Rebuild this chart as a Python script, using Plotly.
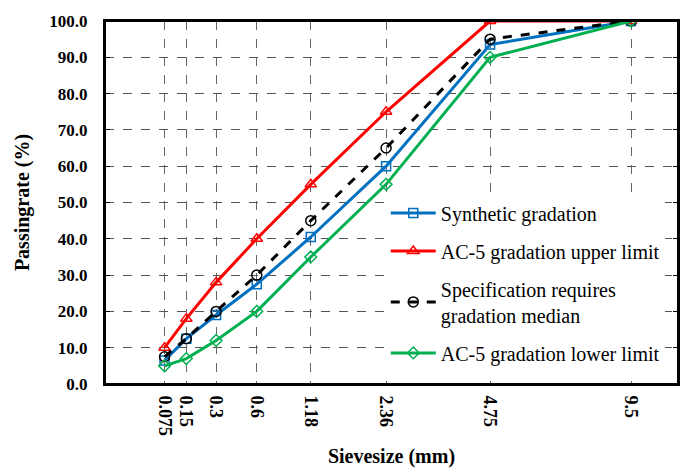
import plotly.graph_objects as go

sieve_sizes = [0.075, 0.15, 0.3, 0.6, 1.18, 2.36, 4.75, 9.5]
tick_labels = ["0.075", "0.15", "0.3", "0.6", "1.18", "2.36", "4.75", "9.5"]
synthetic = [6.5, 12.5, 19.0, 27.5, 40.5, 60.0, 93.5, 100.0]
upper_limit = [10.0, 18.0, 28.0, 40.0, 55.0, 75.0, 100.0, 100.0]
median = [7.5, 12.5, 20.0, 30.0, 45.0, 65.0, 95.0, 100.0]
lower_limit = [5.0, 7.0, 12.0, 20.0, 35.0, 55.0, 90.0, 100.0]

POW = 0.45
xs = [s ** POW for s in sieve_sizes]

fig = go.Figure()
series = [
    ("Synthetic gradation", synthetic, "#0070C0", "solid", "square-open", 9),
    ("AC-5 gradation upper limit", upper_limit, "#FF0000", "solid", "triangle-up-open", 10),
    ("Specification requires<br>gradation median", median, "#000000", "dash", "circle-open", 10),
    ("AC-5 gradation lower limit", lower_limit, "#00B050", "solid", "diamond-open", 9),
]
for i, (name, ys, color, dash, sym, sz) in enumerate(series):
    fig.add_trace(go.Scatter(
        x=xs, y=ys, name=name, mode="lines+markers",
        line=dict(color=color, width=3, dash=dash),
        marker=dict(symbol=sym, size=sz, color=color, line=dict(width=1.5, color=color)),
        legendgroup=f"g{i}",
    ))

font_family = "Liberation Serif"
fig.update_layout(
    width=686, height=474,
    margin=dict(l=105, r=8, t=21, b=90),
    plot_bgcolor="white", paper_bgcolor="white",
    font=dict(family=font_family, color="black"),
    showlegend=True,
    legend=dict(
        x=0.49, y=0.525, xanchor="left", yanchor="top",
        bgcolor="white", borderwidth=0,
        font=dict(family=font_family, size=20, color="black"),
        tracegroupgap=9, traceorder="grouped", itemwidth=45,
    ),
    xaxis=dict(
        range=[0, 3.0], tickmode="array", tickvals=xs, ticktext=tick_labels,
        tickangle=90, tickfont=dict(family=font_family, size=18, color="black", weight="bold"),
        showgrid=True, gridcolor="#666666", griddash="dash", gridwidth=1,
        showline=True, linecolor="black", linewidth=2, mirror=True,
        ticks="", zeroline=False, automargin=False, ticklabelstandoff=6,
        title=dict(text="<b>Sievesize (mm)</b>", font=dict(family=font_family, size=20, color="black"), standoff=14),
    ),
    yaxis=dict(
        range=[0, 100], tickmode="linear", tick0=0, dtick=10, tickformat=".1f",
        tickfont=dict(family=font_family, size=17, color="black", weight="bold"),
        showgrid=True, gridcolor="#555555", griddash="dash", gridwidth=1,
        showline=True, linecolor="black", linewidth=2, mirror="ticks",
        ticks="inside", ticklen=5, tickcolor="black",
        zeroline=False, automargin=False, ticklabelstandoff=12,
        title=dict(text="<b>Passingrate (%)</b>", font=dict(family=font_family, size=20, color="black"), standoff=14),
    ),
    shapes=[dict(type="rect", xref="paper", yref="paper", x0=0, x1=1, y0=0, y1=1,
                 line=dict(color="black", width=2), fillcolor="rgba(0,0,0,0)", layer="above")],
)

fig.write_html("out.html", config={"displayModeBar": False},
               post_script="document.body.style.margin='0';")
